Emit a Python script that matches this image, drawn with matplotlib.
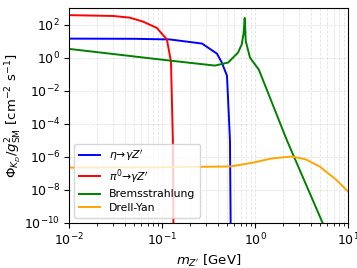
import matplotlib
matplotlib.use('Agg')
import matplotlib.pyplot as plt
import numpy as np

# masses [GeV] and log10 of the flux
eta_m = [0.01, 0.05, 0.122, 0.27, 0.39, 0.44, 0.50, 0.538, 0.548]
eta_f = [1.15, 1.14, 1.1, 0.85, 0.24, -0.3, -1.1, -5.0, -10.5]

pi_m = [0.01, 0.03, 0.045, 0.0625, 0.088, 0.113, 0.125, 0.131, 0.133]
pi_f = [2.57, 2.52, 2.42, 2.18, 1.8, 1.1, -0.24, -5.0, -10.5]

brem_m = [0.01, 0.122, 0.371, 0.513, 0.656, 0.72, 0.755, 0.775, 0.795, 0.883, 1.10, 2.19, 5.33, 6.0]
brem_f = [0.53, -0.18, -0.48, -0.3, 0.3, 0.8, 1.5, 2.4, 1.0, 0.0, -0.73, -4.97, -10.0, -10.7]

dy_m = [0.01, 0.1, 0.3, 0.55, 0.95, 1.5, 2.5, 3.5, 5.0, 7.5, 10.0]
dy_f = [-6.65, -6.63, -6.6, -6.58, -6.35, -6.1, -5.98, -6.15, -6.6, -7.4, -8.1]

plt.rcParams['font.size'] = 9
plt.rcParams['axes.linewidth'] = 0.8

fig = plt.figure(figsize=(3.57, 2.68), dpi=100)
ax = fig.add_axes([0.193, 0.168, 0.782, 0.802])

ax.plot(eta_m, 10.0**np.array(eta_f), color='blue', lw=1.4, label=r"$\eta$→$\gamma Z'$")
ax.plot(pi_m, 10.0**np.array(pi_f), color='red', lw=1.4, label=r"$\pi^0$→$\gamma Z'$")
ax.plot(brem_m, 10.0**np.array(brem_f), color='green', lw=1.4, label='Bremsstrahlung')
ax.plot(dy_m, 10.0**np.array(dy_f), color='orange', lw=1.4, label='Drell-Yan')

ax.set_xscale('log')
ax.set_yscale('log')
ax.set_xlim(1e-2, 1e1)
ax.set_ylim(1e-10, 1e3)
ax.set_yticks([1e-10, 1e-8, 1e-6, 1e-4, 1e-2, 1e0, 1e2])
ax.tick_params(which='major', length=3.5, pad=3)
ax.tick_params(which='minor', length=2)
ax.grid(which='both', ls='--', color='lightgray', alpha=0.6, lw=0.6)
ax.set_xlabel(r"$m_{Z'}$ [GeV]", fontsize=9.5, labelpad=3)
ax.set_ylabel(r"$\Phi_{K_D}/g^2_{\rm SM}$ [cm$^{-2}$ s$^{-1}$]", fontsize=9.5)
ax.yaxis.set_label_coords(-0.16, 0.5)
ax.legend(loc='lower left', fontsize=7.8, labelspacing=0.35)

fig.savefig('out.png', dpi=100)
